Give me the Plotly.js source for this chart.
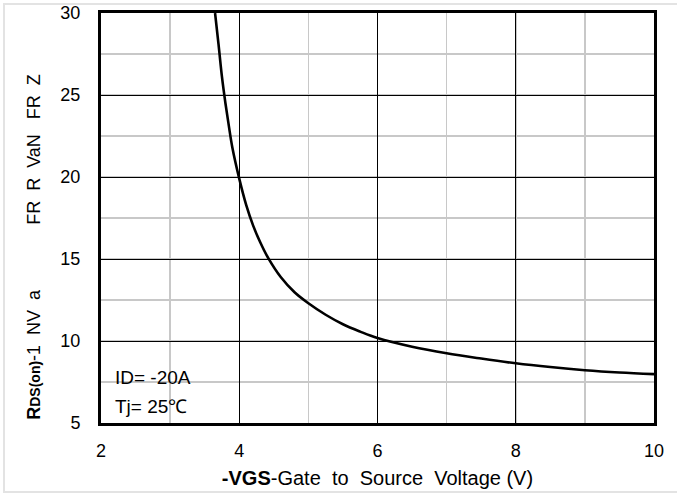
<!DOCTYPE html>
<html>
<head>
<meta charset="utf-8">
<script src="https://cdn.plot.ly/plotly-3.0.1.min.js"></script>
<style>
  html, body { margin: 0; padding: 0; background: #fff; }
  #wrap { position: relative; width: 677px; height: 495px; overflow: hidden; }
  #chart { position: absolute; left: 0; top: 0; width: 677px; height: 495px; }
  #frame { position: absolute; left: 3px; top: 3px; width: 690px; height: 486px;
           border: 2px solid #e3e3e3; pointer-events: none; }
</style>
</head>
<body>
<div id="wrap">
  <div id="chart"></div>
  <div id="frame"></div>
</div>
<script>
// Drain-source on-resistance versus gate-source voltage
const vgs = [3.65, 3.70, 3.75, 3.80, 3.85, 3.90, 4.0, 4.1, 4.2, 4.3, 4.42, 4.6, 4.8, 5.0, 5.25, 5.5, 5.75, 6.0, 6.5, 7.0, 7.5, 8.0, 8.5, 9.0, 9.5, 10.0];
const rdsOn = [30, 28.1, 26.1, 24.5, 23.1, 21.8, 19.9, 18.3, 17.05, 16.05, 15.05, 13.9, 12.97, 12.3, 11.6, 11.02, 10.57, 10.18, 9.65, 9.25, 8.93, 8.64, 8.41, 8.22, 8.08, 7.98];

const xTicks = [2, 4, 6, 8, 10];
const yTicks = [5, 10, 15, 20, 25, 30];

const fontFam = 'Liberation Sans, Arial, sans-serif';
const nb = '\u00A0';
const sp = n => nb.repeat(n);

const trace = {
  x: vgs,
  y: rdsOn,
  type: 'scatter',
  mode: 'lines',
  line: { color: '#000', width: 2.6, shape: 'spline', smoothing: 1 },
  hoverinfo: 'skip',
  cliponaxis: true
};

const layout = {
  width: 677,
  height: 495,
  margin: { l: 101, r: 23, t: 13, b: 72 },
  paper_bgcolor: '#fff',
  plot_bgcolor: '#fff',
  showlegend: false,
  font: { family: fontFam, color: '#000', size: 18 },
  xaxis: {
    range: [2, 10],
    tickvals: xTicks,
    ticktext: xTicks.map(String),
    ticks: '',
    ticklabelstandoff: 9,
    showgrid: true,
    gridcolor: '#000',
    gridwidth: 1,
    minor: { dtick: 1, showgrid: true, gridcolor: '#c8c8c8', gridwidth: 1.5 },
    showline: true,
    linecolor: '#000',
    linewidth: 3,
    mirror: true,
    zeroline: false,
    tickfont: { family: fontFam, size: 18, color: '#000' },
    title: {
      text: '<b>-VGS</b>-Gate' + sp(2) + 'to' + sp(2) + 'Source' + sp(2) + 'Voltage (V)',
      font: { family: fontFam, size: 20, color: '#000' },
      standoff: 12
    }
  },
  yaxis: {
    range: [5, 30],
    tickvals: yTicks,
    ticktext: yTicks.map(String),
    ticks: '',
    ticklabelstandoff: 14,
    showgrid: true,
    gridcolor: '#000',
    gridwidth: 1,
    minor: { dtick: 2.5, showgrid: true, gridcolor: '#c8c8c8', gridwidth: 1.5 },
    showline: true,
    linecolor: '#000',
    linewidth: 3,
    mirror: true,
    zeroline: false,
    tickfont: { family: fontFam, size: 18, color: '#000' }
  },
  annotations: [
    {
      text: 'ID= -20A',
      xref: 'paper', yref: 'paper',
      x: 0.022, y: 0.11,
      xanchor: 'left', yanchor: 'middle',
      showarrow: false,
      font: { family: fontFam, size: 19, color: '#000' }
    },
    {
      text: 'Tj= 25℃',
      xref: 'paper', yref: 'paper',
      x: 0.022, y: 0.04,
      xanchor: 'left', yanchor: 'middle',
      showarrow: false,
      font: { family: fontFam, size: 19, color: '#000' }
    },
    {
      text: '<b>R</b><b><span style="font-size:14px">DS(on)</span></b>-1' + sp(2) + 'NV' + sp(2) + 'a' +
            sp(13) + 'FR' + sp(2) + 'R' + sp(2) + 'VaN' + sp(3) + 'FR' + sp(2) + 'Z',
      xref: 'paper', yref: 'paper',
      x: -0.121, y: 0.43,
      xanchor: 'center', yanchor: 'middle',
      textangle: -90,
      showarrow: false,
      font: { family: fontFam, size: 18, color: '#000' }
    }
  ]
};

Plotly.newPlot('chart', [trace], layout, { staticPlot: true, displayModeBar: false });
</script>
</body>
</html>
